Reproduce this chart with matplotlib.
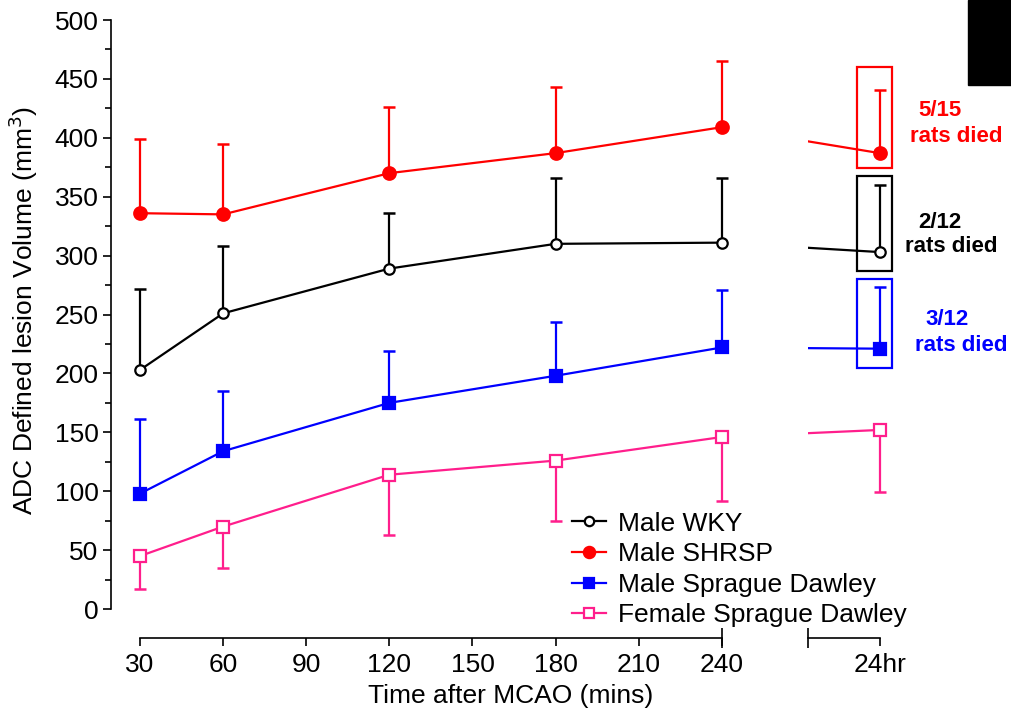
import numpy as np
import matplotlib.pyplot as plt
from matplotlib.lines import Line2D
from matplotlib.patches import Rectangle

plt.rcParams['font.family'] = ['Liberation Sans', 'DejaVu Sans']

# data (mean lesion volume and one-sided SEM, mm^3)
time_labels = ['30', '60', '90', '120', '150', '180', '210', '240', '24hr']
times = [30, 60, 120, 180, 240]

wky_mean = [203, 251, 289, 310, 311, 303]
wky_err = [69, 57, 47, 56, 55, 57]
shrsp_mean = [336, 335, 370, 387, 409, 387]
shrsp_err = [63, 60, 56, 56, 56, 54]
msd_mean = [98, 134, 175, 198, 222, 221]
msd_err = [63, 51, 44, 46, 49, 52]
fsd_mean = [45, 70, 114, 126, 146, 152]
fsd_err = [28, 35, 51, 51, 54, 53]

died = ['5/15', '2/12', '3/12']

# layout: where the 24hr point and the axis break sit on the x scale
X_24HR = 297
X_BREAK = 271
Y_BOTTOM = -24.6
x_all = np.array(times + [X_24HR])

fig = plt.figure(figsize=(10.11, 7.13), dpi=100)
ax = fig.add_axes([111 / 1011, 75 / 713, 900 / 1011, 618 / 713])
ax.set_xlim(19.5, 344.4)
ax.set_ylim(Y_BOTTOM, 500)

pink = '#ff1e8c'
series = [
    (wky_mean, wky_err, 'black', 'o', 'white', 7.5, 'up', 'Male WKY'),
    (shrsp_mean, shrsp_err, 'red', 'o', 'red', 9, 'up', 'Male SHRSP'),
    (msd_mean, msd_err, 'blue', 's', 'blue', 8, 'up', 'Male Sprague Dawley'),
    (fsd_mean, fsd_err, pink, 's', 'white', 8, 'down', 'Female Sprague Dawley'),
]

gap_clip = Rectangle((X_BREAK, -1000), 1000, 3000, transform=ax.transData)
handles = []
for mean, err, col, mk, mfc, ms, side, lab in series:
    mean = np.array(mean)
    err = np.array(err)
    end = mean + err if side == 'up' else mean - err
    ax.vlines(x_all, mean, end, color=col, lw=1.6, zorder=2)
    ax.plot(x_all, end, ls='none', marker='_', ms=8, mew=1.8, color=col, zorder=2)
    ax.plot(x_all[:5], mean[:5], color=col, lw=1.6, zorder=3)
    seg, = ax.plot(x_all[4:], mean[4:], color=col, lw=1.6, zorder=3)
    seg.set_clip_path(gap_clip)
    ax.plot(x_all, mean, ls='none', marker=mk, ms=ms, mfc=mfc, mec=col,
            mew=1.6, zorder=4)
    handles.append(Line2D([], [], color=col, lw=1.6, marker=mk, ms=ms * 0.9,
                          mfc=mfc, mec=col, mew=1.6, label=lab))

# boxes round the 24hr points of the strains with deaths
box_cols = ['red', 'black', 'blue']
box_y = [(374, 460), (287, 368), (205, 280)]
for (y0, y1), col in zip(box_y, box_cols):
    ax.add_patch(Rectangle((288.8, y0), 12.8, y1 - y0, fill=False,
                           ec=col, lw=1.6, zorder=5))

text_pos = [((318.7, 423.6), (324.5, 400.7)),
            ((318.7, 328.5), (323.0, 308.0)),
            ((321.2, 246.0), (326.3, 224.0))]
for txt, col, (p1, p2) in zip(died, box_cols, text_pos):
    ax.text(*p1, txt, color=col, fontsize=16, fontweight='bold',
            ha='center', va='center', clip_on=False)
    ax.text(*p2, 'rats died', color=col, fontsize=16, fontweight='bold',
            ha='center', va='center', clip_on=False)

# axes styling
for s in ['top', 'right']:
    ax.spines[s].set_visible(False)
ax.spines['left'].set_linewidth(1.2)
ax.spines['left'].set_bounds(0, 500)
ax.spines['bottom'].set_linewidth(1.2)
ax.spines['bottom'].set_bounds(30, 240)

ax.set_yticks(np.arange(0, 501, 50))
ax.set_yticks(np.arange(25, 500, 50), minor=True)
ax.tick_params(axis='y', which='major', length=6, width=1.2, labelsize=19, pad=3)
ax.tick_params(axis='y', which='minor', length=4, width=1.2)

tick_x = [30, 60, 90, 120, 150, 180, 210, 240, X_24HR]
ax.set_xticks(tick_x)
ax.set_xticklabels(time_labels)
ax.tick_params(axis='x', length=6, width=1.2, labelsize=19, pad=5)

# second piece of the broken x axis, plus the end marks that cross the axis
ax.plot([X_BREAK, X_24HR], [Y_BOTTOM, Y_BOTTOM], color='black', lw=1.2,
        clip_on=False)
ax.plot([240, X_BREAK], [Y_BOTTOM, Y_BOTTOM], ls='none', marker='|', ms=14,
        mew=1.2, color='black', clip_on=False)

ax.set_xlabel('Time after MCAO (mins)', fontsize=19)
ax.xaxis.set_label_coords((511 - 111) / 900, (638 - 684) / 618)
ax.set_ylabel('ADC Defined lesion Volume (mm$^3$)', fontsize=19)
ax.yaxis.set_label_coords((40 - 111) / 900, (638 - 311) / 618)

ax.legend(handles=handles, loc='upper left', bbox_to_anchor=(561 / 1011, 1 - 501 / 713),
          bbox_transform=fig.transFigure,
          frameon=False, fontsize=19, handlelength=1.3, handletextpad=0.45,
          labelspacing=0.25, borderaxespad=0)

# black block in the top right corner
fig.patches.append(Rectangle((968 / 1011, 1 - 85 / 713), 43 / 1011, 85 / 713,
                             transform=fig.transFigure, color='black'))

fig.savefig('out.png', dpi=100)
